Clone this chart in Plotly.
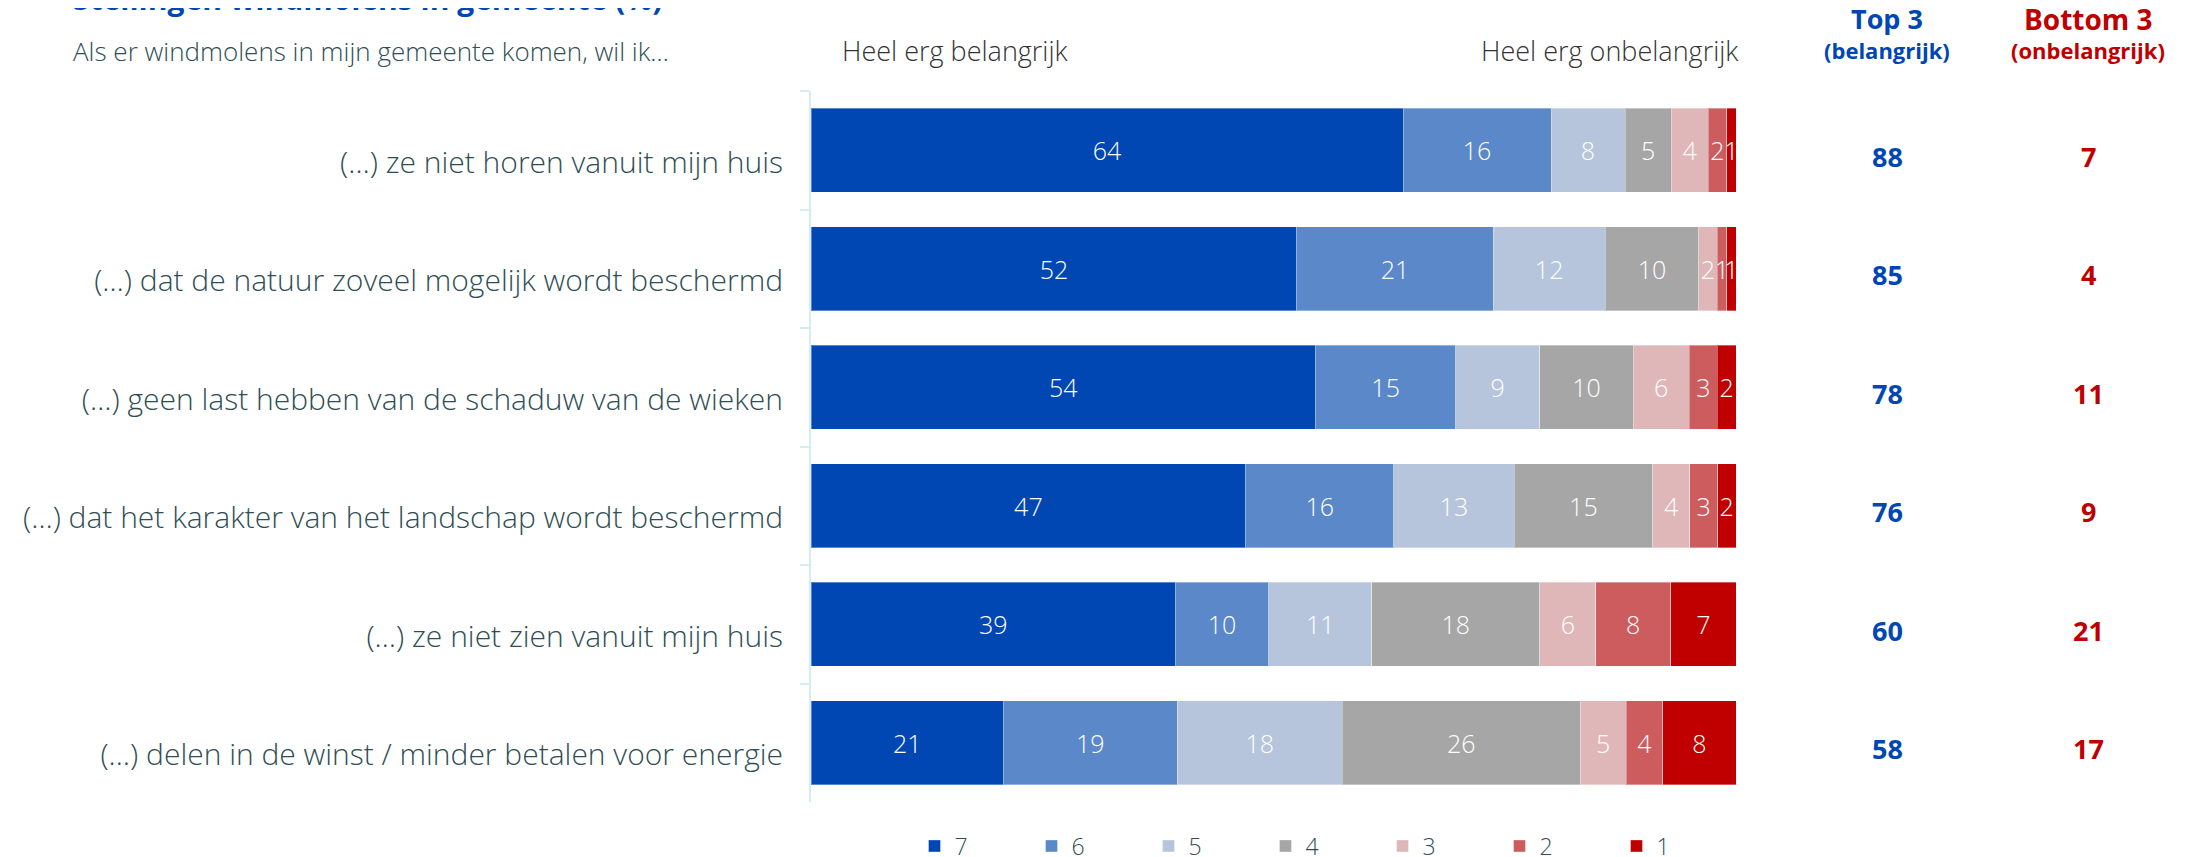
import plotly.graph_objects as go

categories = [
    "(…) ze niet horen vanuit mijn huis",
    "(…) dat de natuur zoveel mogelijk wordt beschermd",
    "(…) geen last hebben van de schaduw van de wieken",
    "(…) dat het karakter van het landschap wordt beschermd",
    "(…) ze niet zien vanuit mijn huis",
    "(…) delen in de winst / minder betalen voor energie",
]
series_names = ["7", "6", "5", "4", "3", "2", "1"]
values = {
    "7": [64, 52, 54, 47, 39, 21],
    "6": [16, 21, 15, 16, 10, 19],
    "5": [8, 12, 9, 13, 11, 18],
    "4": [5, 10, 10, 15, 18, 26],
    "3": [4, 2, 6, 4, 6, 5],
    "2": [2, 1, 3, 3, 8, 4],
    "1": [1, 1, 2, 2, 7, 8],
}
top3 = [88, 85, 78, 76, 60, 58]
bottom3 = [7, 4, 11, 9, 21, 17]

colors = {
    "7": "#0047b4",
    "6": "#5b88c9",
    "5": "#b7c5dc",
    "4": "#a6a6a6",
    "3": "#dfb7b8",
    "2": "#cd5c5e",
    "1": "#c00000",
}

FONT = "Open Sans"
LABEL_COLOR = "#2f4e54"
BLUE = "#0047b4"
RED = "#c00000"

fig = go.Figure()
for s in series_names:
    fig.add_trace(go.Bar(
        name=s,
        y=categories,
        x=values[s],
        orientation="h",
        marker=dict(color=colors[s], line=dict(color="rgba(255,255,255,0.35)", width=1)),
        text=[str(v) for v in values[s]],
        texttemplate="%{text}",
        textposition="inside",
        insidetextanchor="middle",
        textangle=0,
        textfont=dict(color="white", size=25, family=FONT, weight=300),
        hoverinfo="skip",
    ))

W, H = 2193, 857
OFF = 8  # page body margin
L, T = 811 - OFF, 91 - OFF
pw, ph = 925, 711
R = W - L - pw
B = H - T - ph

# positions given in reference-picture pixels
def px_x(p):
    return (p - 811) / pw

def px_y(p):
    return (802 - p) / ph

annotations = []
annotations.append(dict(text="<b>Stellingen windmolens in gemeente (%)</b>", xref="paper", yref="paper",
                        x=px_x(71), y=px_y(21), xanchor="left", yanchor="bottom", showarrow=False,
                        font=dict(family=FONT, size=30, color=BLUE)))
annotations.append(dict(text="Als er windmolens in mijn gemeente komen, wil ik…", xref="paper", yref="paper",
                        x=px_x(71), y=px_y(51), xanchor="left", yanchor="middle", showarrow=False,
                        font=dict(family=FONT, size=26, color=LABEL_COLOR, weight=300)))
annotations.append(dict(text="Heel erg belangrijk", xref="paper", yref="paper",
                        x=px_x(840), y=px_y(51), xanchor="left", yanchor="middle", showarrow=False,
                        font=dict(family=FONT, size=27, color="#333333", weight=300)))
annotations.append(dict(text="Heel erg onbelangrijk", xref="paper", yref="paper",
                        x=px_x(1741), y=px_y(51), xanchor="right", yanchor="middle", showarrow=False,
                        font=dict(family=FONT, size=27, color="#333333", weight=300)))
annotations.append(dict(text="<b>Top 3</b>", xref="paper", yref="paper",
                        x=px_x(1887), y=px_y(19), xanchor="center", yanchor="middle", showarrow=False,
                        font=dict(family=FONT, size=27, color=BLUE)))
annotations.append(dict(text="<b>(belangrijk)</b>", xref="paper", yref="paper",
                        x=px_x(1887), y=px_y(50), xanchor="center", yanchor="middle", showarrow=False,
                        font=dict(family=FONT, size=22, color=BLUE)))
annotations.append(dict(text="<b>Bottom 3</b>", xref="paper", yref="paper",
                        x=px_x(2088), y=px_y(19), xanchor="center", yanchor="middle", showarrow=False,
                        font=dict(family=FONT, size=28, color=RED)))
annotations.append(dict(text="<b>(onbelangrijk)</b>", xref="paper", yref="paper",
                        x=px_x(2088), y=px_y(50), xanchor="center", yanchor="middle", showarrow=False,
                        font=dict(family=FONT, size=22, color=RED)))
for c, t, b in zip(categories, top3, bottom3):
    annotations.append(dict(text=f"<b>{t}</b>", xref="paper", yref="y", x=px_x(1887), y=c,
                            xanchor="center", yanchor="middle", showarrow=False, yshift=-6,
                            font=dict(family=FONT, size=27, color=BLUE)))
    annotations.append(dict(text=f"<b>{b}</b>", xref="paper", yref="y", x=px_x(2088), y=c,
                            xanchor="center", yanchor="middle", showarrow=False, yshift=-6,
                            font=dict(family=FONT, size=27, color=RED)))

fig.update_layout(
    width=W, height=H,
    margin=dict(l=L, r=R, t=T, b=B, autoexpand=False),
    barmode="stack",
    barnorm="percent",
    bargap=0.29,
    plot_bgcolor="white",
    paper_bgcolor="white",
    font=dict(family=FONT, color=LABEL_COLOR),
    uniformtext=dict(minsize=25, mode="show"),
    showlegend=True,
    legend=dict(orientation="h", x=px_x(1324), xanchor="center", y=px_y(846), yanchor="middle",
                entrywidth=72, entrywidthmode="pixels", traceorder="normal",
                font=dict(family=FONT, size=23, color=LABEL_COLOR, weight=300),
                itemclick=False, itemdoubleclick=False),
    annotations=annotations,
)
fig.update_xaxes(range=[0, 100], visible=False, showgrid=False, zeroline=False, fixedrange=True)
fig.update_yaxes(
    autorange="reversed", type="category",
    showline=True, linecolor="#d3edf1", linewidth=2,
    ticks="outside", tickson="boundaries", ticklen=9, tickcolor="#d3edf1", tickwidth=2,
    showgrid=False, zeroline=False, ticklabelstandoff=20, ticklabelshift=-12,
    tickfont=dict(family=FONT, size=30, color=LABEL_COLOR, weight=300),
)

fig.write_html("out.html")
